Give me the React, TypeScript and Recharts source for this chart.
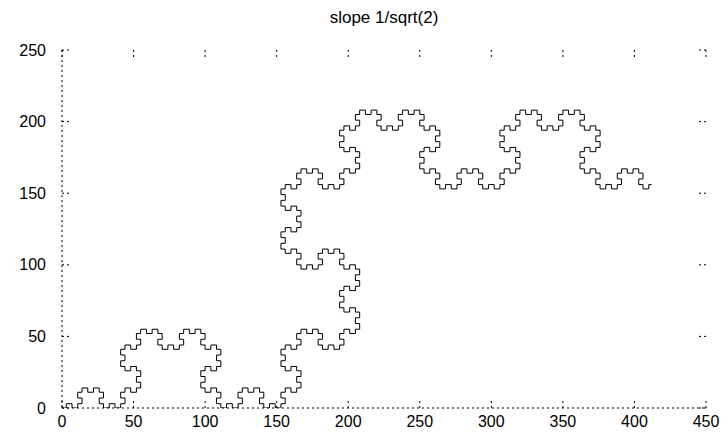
import React from "react";
import { LineChart, Line, XAxis, YAxis, ReferenceLine } from "recharts";

const xTicks = [0, 50, 100, 150, 200, 250, 300, 350, 400, 450];
const yTicks = [0, 50, 100, 150, 200, 250];

// run lengths (unit steps) between turns along the curve, in drawing order
const runLengths = [
  "3",
  "34343343433434343343433434343",
  "34343343433434343343433434343",
  "343433434334",
  "34343343433434343343433434343",
  "34343343433434343343433434343",
  "343433434334",
  "34343343433434343343433434343",
  "34343343433434343343433434343",
  "34343343433434343343433434343",
  "343433434334",
  "34343343433434343343433434343",
  "34343343433434343343433434343",
  "343433434334",
  "34343343433434343343433434343",
  "34343343433434343343433434343",
  "34343343433434343343433434343",
  "343433434334",
  "34343343433434343343433434343",
  "34343343433434343343433434343",
  "343433434334",
  "34343343433434343343433434343",
  "34343343433434343343433434343",
  "343433434334",
  "34343343433434343343433434343",
  "34343343433434343343433434343",
  "34343343433434343343433434343",
  "34343343",
  "2",
].join("").split("").map(Number);

// word-fractal turning: left after an odd step count, right after an even one
const DIRS = [[1, 0], [0, 1], [-1, 0], [0, -1]];
function walk(lengths: number[]) {
  let x = 0, y = 0, dir = 0, step = 0;
  const pts = [{ x, y }];
  for (const len of lengths) {
    x += DIRS[dir][0] * len;
    y += DIRS[dir][1] * len;
    step += len;
    pts.push({ x, y });
    dir = step % 2 === 1 ? (dir + 1) % 4 : (dir + 3) % 4;
  }
  return pts;
}
const curve = walk(runLengths);

const tickLen = 5;
const axisStroke = { stroke: "#000", strokeDasharray: "2 3" };

export default function App() {
  return (
    <div style={{ position: "absolute", left: 0, top: 0, width: 728, height: 441, background: "#fff", fontFamily: "'Liberation Sans', Arial, sans-serif" }}>
      <div style={{ position: "absolute", left: 0, top: 8, width: 768, textAlign: "center", fontSize: 17 }}>slope 1/sqrt(2)</div>
      <LineChart width={728} height={441} data={curve} margin={{ top: 50, right: 22, bottom: 0, left: 0 }}>
        <XAxis type="number" dataKey="x" domain={[0, 450]} ticks={xTicks} height={33} interval={0}
          axisLine={axisStroke} tickLine={false} tick={{ fill: "#000", fontSize: 16 }} allowDataOverflow />
        <YAxis type="number" domain={[0, 250]} ticks={yTicks} width={62} interval={0} tickMargin={10}
          axisLine={axisStroke} tickLine={false} tick={{ fill: "#000", fontSize: 16 }} allowDataOverflow />
        {/* inward tics on all four sides, gnuplot style */}
        {xTicks.map((t) => (
          <ReferenceLine key={`xb${t}`} segment={[{ x: t, y: 0 }, { x: t, y: tickLen }]} {...axisStroke} ifOverflow="visible" />
        ))}
        {xTicks.map((t) => (
          <ReferenceLine key={`xt${t}`} segment={[{ x: t, y: 250 }, { x: t, y: 250 - tickLen }]} {...axisStroke} ifOverflow="visible" />
        ))}
        {yTicks.map((t) => (
          <ReferenceLine key={`yl${t}`} segment={[{ x: 0, y: t }, { x: tickLen, y: t }]} {...axisStroke} ifOverflow="visible" />
        ))}
        {yTicks.map((t) => (
          <ReferenceLine key={`yr${t}`} segment={[{ x: 450, y: t }, { x: 450 - tickLen, y: t }]} {...axisStroke} ifOverflow="visible" />
        ))}
        <Line dataKey="y" type="linear" stroke="#000" strokeWidth={1} dot={false} isAnimationActive={false} />
      </LineChart>
    </div>
  );
}
